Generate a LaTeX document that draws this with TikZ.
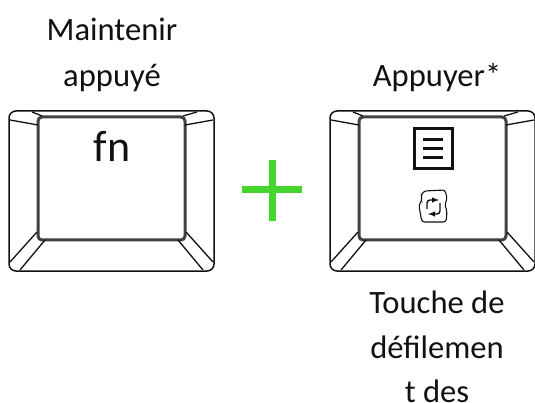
\documentclass[tikz,border=0pt]{standalone}
\usepackage{fontspec}
\setmainfont{Carlito}
\definecolor{plusgreen}{HTML}{44D62C}
\definecolor{ink}{HTML}{111111}
\tikzset{
  lbl/.style={font=\fontsize{32.6}{32.6}\selectfont, text=ink, inner sep=0pt, anchor=base},
  keyout/.style={draw=ink, line width=1.5pt, rounded corners=7pt},
  keyin/.style={draw=ink!80, line width=3pt, rounded corners=4pt},
  keyedge/.style={draw=ink, line width=1.3pt},
  keycap/.pic={
    \draw[keyout] (0,0) rectangle (205,160);
    \draw[keyin] (29,6) rectangle (176,129);
    \draw[keyedge] (1,9) -- (29,14);
    \draw[keyedge] (23,1) -- (33,5);
    \draw[keyedge] (204,9) -- (176,14);
    \draw[keyedge] (188,1) -- (174,5);
    \draw[keyedge] (1,151) -- (28,121);
    \draw[keyedge] (11,159) -- (36,129);
    \draw[keyedge] (204,151) -- (177,121);
    \draw[keyedge] (194,159) -- (169,129);
  }
}
\begin{document}
\begin{tikzpicture}[x=1pt,y=-1pt]
\useasboundingbox (0,0) rectangle (535,403);
\pic at (9,111) {keycap};
\pic at (330,111) {keycap};
\node[lbl] (hold1) at (112,41) {Maintenir};
\node[lbl] (hold2) at (112,87) {appuyé};
\node[lbl] (press) at (437,87) {Appuyer*};
\node[lbl,font=\fontsize{44}{44}\selectfont] (fn) at (112,162) {fn};
\node[lbl] (t1) at (437,313) {Touche de};
\node[lbl] (t2) at (437,358) {défilemen};
\node[lbl] (t3) at (437,402) {t des};
\draw[plusgreen,line width=7pt] (242,190) -- (302,190);
\draw[plusgreen,line width=7pt] (272,160) -- (272,221);
\node[draw=ink,line width=3pt,minimum width=38pt,minimum height=40pt,inner sep=0pt] (menu) at (433,149) {};
\foreach \yy in {-9,0,9} \draw[ink,line width=3pt] ([xshift=-10pt,yshift=\yy pt]menu.center) -- ([xshift=10pt,yshift=\yy pt]menu.center);
\draw[ink,line width=1.1pt,rounded corners=2.5pt] (424,191) -- (445,190) -- (447,198) -- (445,205) -- (447,212) -- (446,222) -- (422,222) -- (420,212) -- (419,205) -- (422,200) -- (421,196) -- cycle;
\draw[ink,line width=1.4pt,-latex,rounded corners=3pt] (427,209) -- (427,200) -- (439,200);
\draw[ink,line width=1.4pt,-latex,rounded corners=3pt] (440,203) -- (440,214) -- (428,214);
\end{tikzpicture}
\end{document}
